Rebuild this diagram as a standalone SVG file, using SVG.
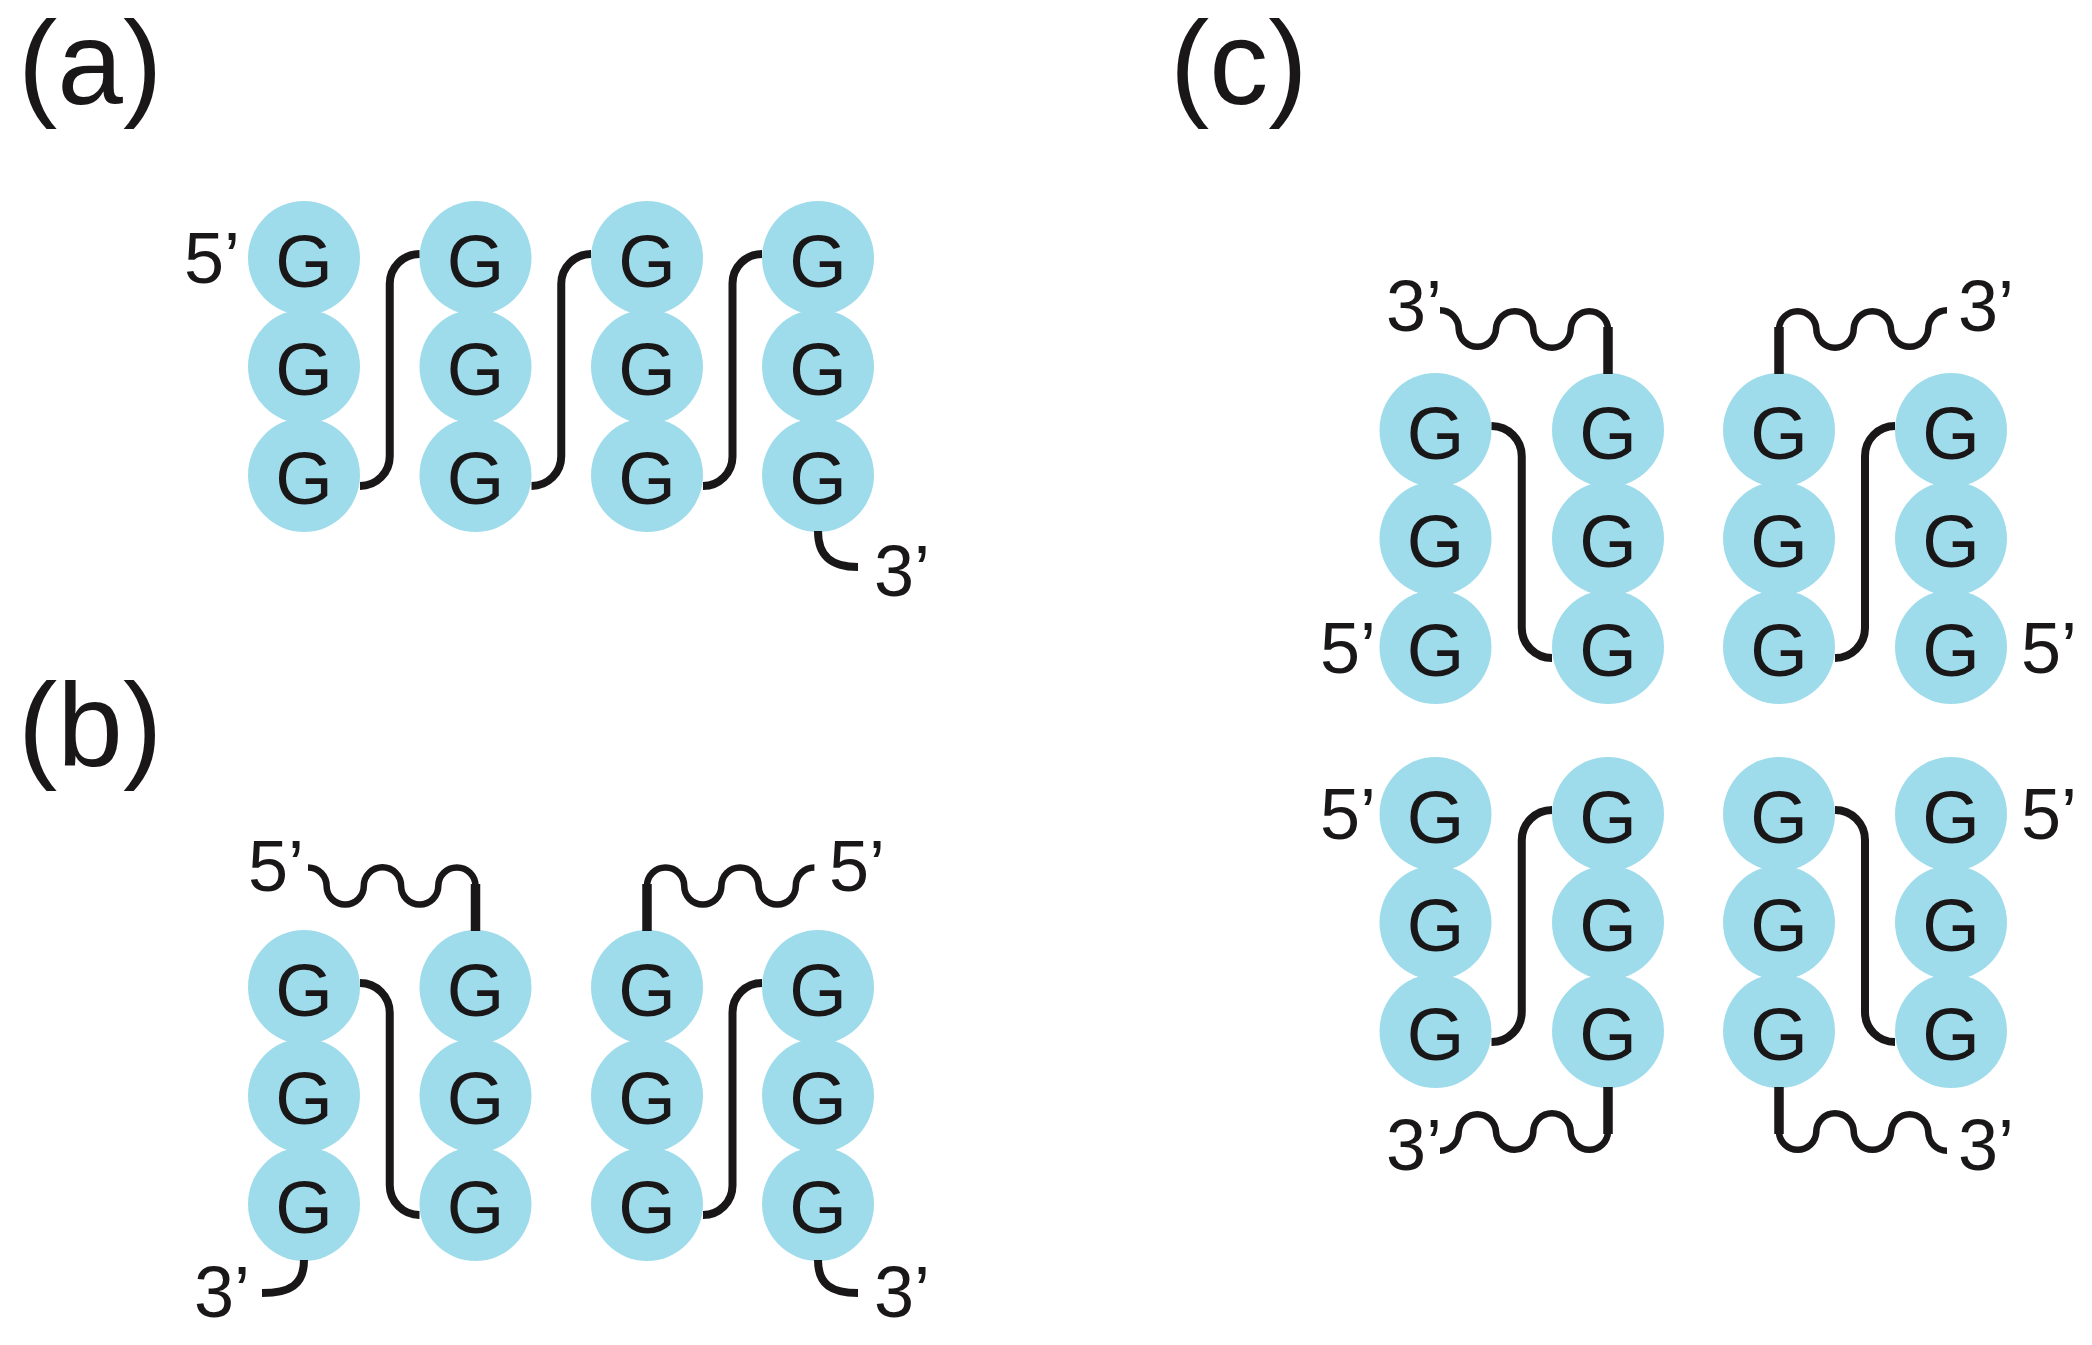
<svg xmlns="http://www.w3.org/2000/svg" width="2092" height="1345" viewBox="0 0 2092 1345">
<style>
.nd ellipse{fill:#9edcec}
.nd text{font-family:"Liberation Sans",Arial,sans-serif;font-size:74px;fill:#1a1718;text-anchor:middle}
.lbl{font-family:"Liberation Sans",Arial,sans-serif;font-size:72px;fill:#1a1718}
.panel{font-family:"Liberation Sans",Arial,sans-serif;font-size:118px;fill:#1a1718}
.loop,.wave,.tail,.stub{fill:none;stroke:#1a1718;stroke-linecap:butt}
.loop{stroke-width:8}
.tail{stroke-width:8}
.wave{stroke-width:6.5}
.stub{stroke-width:9.5}
</style>
<rect width="2092" height="1345" fill="#ffffff"/>
<text class="panel" x="18" y="104">(a)</text>
<text class="panel" x="18" y="766">(b)</text>
<text class="panel" x="1170" y="104">(c)</text>

<!-- panel (a) -->
<g id="a-c1-r1" class="nd"><ellipse cx="304" cy="258" rx="56" ry="57"/><text x="304" y="286.5">G</text></g>
<g id="a-c1-r2" class="nd"><ellipse cx="304" cy="366.5" rx="56" ry="57"/><text x="304" y="395">G</text></g>
<g id="a-c1-r3" class="nd"><ellipse cx="304" cy="475" rx="56" ry="57"/><text x="304" y="503.5">G</text></g>
<g id="a-c2-r1" class="nd"><ellipse cx="475.5" cy="258" rx="56" ry="57"/><text x="475.5" y="286.5">G</text></g>
<g id="a-c2-r2" class="nd"><ellipse cx="475.5" cy="366.5" rx="56" ry="57"/><text x="475.5" y="395">G</text></g>
<g id="a-c2-r3" class="nd"><ellipse cx="475.5" cy="475" rx="56" ry="57"/><text x="475.5" y="503.5">G</text></g>
<g id="a-c3-r1" class="nd"><ellipse cx="647" cy="258" rx="56" ry="57"/><text x="647" y="286.5">G</text></g>
<g id="a-c3-r2" class="nd"><ellipse cx="647" cy="366.5" rx="56" ry="57"/><text x="647" y="395">G</text></g>
<g id="a-c3-r3" class="nd"><ellipse cx="647" cy="475" rx="56" ry="57"/><text x="647" y="503.5">G</text></g>
<g id="a-c4-r1" class="nd"><ellipse cx="818" cy="258" rx="56" ry="57"/><text x="818" y="286.5">G</text></g>
<g id="a-c4-r2" class="nd"><ellipse cx="818" cy="366.5" rx="56" ry="57"/><text x="818" y="395">G</text></g>
<g id="a-c4-r3" class="nd"><ellipse cx="818" cy="475" rx="56" ry="57"/><text x="818" y="503.5">G</text></g>

<!-- panel (b) -->
<g id="b-c1-r1" class="nd"><ellipse cx="304" cy="987" rx="56" ry="57"/><text x="304" y="1015.5">G</text></g>
<g id="b-c1-r2" class="nd"><ellipse cx="304" cy="1095.5" rx="56" ry="57"/><text x="304" y="1124">G</text></g>
<g id="b-c1-r3" class="nd"><ellipse cx="304" cy="1204" rx="56" ry="57"/><text x="304" y="1232.5">G</text></g>
<g id="b-c2-r1" class="nd"><ellipse cx="475.5" cy="987" rx="56" ry="57"/><text x="475.5" y="1015.5">G</text></g>
<g id="b-c2-r2" class="nd"><ellipse cx="475.5" cy="1095.5" rx="56" ry="57"/><text x="475.5" y="1124">G</text></g>
<g id="b-c2-r3" class="nd"><ellipse cx="475.5" cy="1204" rx="56" ry="57"/><text x="475.5" y="1232.5">G</text></g>
<g id="b-c3-r1" class="nd"><ellipse cx="647" cy="987" rx="56" ry="57"/><text x="647" y="1015.5">G</text></g>
<g id="b-c3-r2" class="nd"><ellipse cx="647" cy="1095.5" rx="56" ry="57"/><text x="647" y="1124">G</text></g>
<g id="b-c3-r3" class="nd"><ellipse cx="647" cy="1204" rx="56" ry="57"/><text x="647" y="1232.5">G</text></g>
<g id="b-c4-r1" class="nd"><ellipse cx="818" cy="987" rx="56" ry="57"/><text x="818" y="1015.5">G</text></g>
<g id="b-c4-r2" class="nd"><ellipse cx="818" cy="1095.5" rx="56" ry="57"/><text x="818" y="1124">G</text></g>
<g id="b-c4-r3" class="nd"><ellipse cx="818" cy="1204" rx="56" ry="57"/><text x="818" y="1232.5">G</text></g>

<!-- panel (c) top -->
<g id="c-t-c1-r1" class="nd"><ellipse cx="1435.5" cy="430" rx="56" ry="57"/><text x="1435.5" y="458.5">G</text></g>
<g id="c-t-c1-r2" class="nd"><ellipse cx="1435.5" cy="538.5" rx="56" ry="57"/><text x="1435.5" y="567">G</text></g>
<g id="c-t-c1-r3" class="nd"><ellipse cx="1435.5" cy="647" rx="56" ry="57"/><text x="1435.5" y="675.5">G</text></g>
<g id="c-t-c2-r1" class="nd"><ellipse cx="1608" cy="430" rx="56" ry="57"/><text x="1608" y="458.5">G</text></g>
<g id="c-t-c2-r2" class="nd"><ellipse cx="1608" cy="538.5" rx="56" ry="57"/><text x="1608" y="567">G</text></g>
<g id="c-t-c2-r3" class="nd"><ellipse cx="1608" cy="647" rx="56" ry="57"/><text x="1608" y="675.5">G</text></g>
<g id="c-t-c3-r1" class="nd"><ellipse cx="1779" cy="430" rx="56" ry="57"/><text x="1779" y="458.5">G</text></g>
<g id="c-t-c3-r2" class="nd"><ellipse cx="1779" cy="538.5" rx="56" ry="57"/><text x="1779" y="567">G</text></g>
<g id="c-t-c3-r3" class="nd"><ellipse cx="1779" cy="647" rx="56" ry="57"/><text x="1779" y="675.5">G</text></g>
<g id="c-t-c4-r1" class="nd"><ellipse cx="1951" cy="430" rx="56" ry="57"/><text x="1951" y="458.5">G</text></g>
<g id="c-t-c4-r2" class="nd"><ellipse cx="1951" cy="538.5" rx="56" ry="57"/><text x="1951" y="567">G</text></g>
<g id="c-t-c4-r3" class="nd"><ellipse cx="1951" cy="647" rx="56" ry="57"/><text x="1951" y="675.5">G</text></g>

<!-- panel (c) bottom -->
<g id="c-b-c1-r1" class="nd"><ellipse cx="1435.5" cy="814" rx="56" ry="57"/><text x="1435.5" y="842.5">G</text></g>
<g id="c-b-c1-r2" class="nd"><ellipse cx="1435.5" cy="922.5" rx="56" ry="57"/><text x="1435.5" y="951">G</text></g>
<g id="c-b-c1-r3" class="nd"><ellipse cx="1435.5" cy="1031" rx="56" ry="57"/><text x="1435.5" y="1059.5">G</text></g>
<g id="c-b-c2-r1" class="nd"><ellipse cx="1608" cy="814" rx="56" ry="57"/><text x="1608" y="842.5">G</text></g>
<g id="c-b-c2-r2" class="nd"><ellipse cx="1608" cy="922.5" rx="56" ry="57"/><text x="1608" y="951">G</text></g>
<g id="c-b-c2-r3" class="nd"><ellipse cx="1608" cy="1031" rx="56" ry="57"/><text x="1608" y="1059.5">G</text></g>
<g id="c-b-c3-r1" class="nd"><ellipse cx="1779" cy="814" rx="56" ry="57"/><text x="1779" y="842.5">G</text></g>
<g id="c-b-c3-r2" class="nd"><ellipse cx="1779" cy="922.5" rx="56" ry="57"/><text x="1779" y="951">G</text></g>
<g id="c-b-c3-r3" class="nd"><ellipse cx="1779" cy="1031" rx="56" ry="57"/><text x="1779" y="1059.5">G</text></g>
<g id="c-b-c4-r1" class="nd"><ellipse cx="1951" cy="814" rx="56" ry="57"/><text x="1951" y="842.5">G</text></g>
<g id="c-b-c4-r2" class="nd"><ellipse cx="1951" cy="922.5" rx="56" ry="57"/><text x="1951" y="951">G</text></g>
<g id="c-b-c4-r3" class="nd"><ellipse cx="1951" cy="1031" rx="56" ry="57"/><text x="1951" y="1059.5">G</text></g>

<!-- end labels -->
<g id="labels">
<text class="lbl" x="184" y="283">5’</text>
<text class="lbl" x="874" y="596">3’</text>
<text class="lbl" x="248" y="891">5’</text>
<text class="lbl" x="829" y="891">5’</text>
<text class="lbl" x="194" y="1317">3’</text>
<text class="lbl" x="874" y="1317">3’</text>
<text class="lbl" x="1386" y="331">3’</text>
<text class="lbl" x="1958" y="331">3’</text>
<text class="lbl" x="1320" y="673">5’</text>
<text class="lbl" x="2021" y="673">5’</text>
<text class="lbl" x="1320" y="839">5’</text>
<text class="lbl" x="2021" y="839">5’</text>
<text class="lbl" x="1386" y="1170">3’</text>
<text class="lbl" x="1958" y="1170">3’</text>
</g>

<g id="connectors">
<!-- (a) -->
<path class="loop" d="M 360 486 A 29.75 29.75 0 0 0 389.75 456.25 V 283.75 A 29.75 29.75 0 0 1 419.5 254"/>
<path class="loop" d="M 531.5 486 A 29.75 29.75 0 0 0 561.25 456.25 V 283.75 A 29.75 29.75 0 0 1 591 254"/>
<path class="loop" d="M 703 486 A 29.5 29.5 0 0 0 732.5 456.5 V 283.5 A 29.5 29.5 0 0 1 762 254"/>
<path class="tail" d="M 818 531 C 818 557 832 567 858 567"/>
<!-- (b) -->
<path class="loop" d="M 360 983 A 29.75 29.75 0 0 1 389.75 1012.75 V 1185.25 A 29.75 29.75 0 0 0 419.5 1215"/>
<path class="loop" d="M 703 1215 A 29.5 29.5 0 0 0 732.5 1185.5 V 1012.5 A 29.5 29.5 0 0 1 762 983"/>
<path class="wave" d="M 308 867.4 A 18.6 18.6 0 0 1 326.6 886 A 18.6 18.6 0 0 0 363.8 886 A 18.6 18.6 0 0 1 401.1 886 A 18.6 18.6 0 0 0 438.3 886 A 18.6 18.6 0 0 1 475.5 886"/>
<line class="stub" x1="475.5" y1="884" x2="475.5" y2="931"/>
<path class="wave" d="M 647 886 A 18.6 18.6 0 0 1 684.2 886 A 18.6 18.6 0 0 0 721.4 886 A 18.6 18.6 0 0 1 758.6 886 A 18.6 18.6 0 0 0 795.8 886 A 18.6 18.6 0 0 1 814.4 867.4"/>
<line class="stub" x1="647" y1="884" x2="647" y2="931"/>
<path class="tail" d="M 304 1260 C 304 1285 290 1293 262 1293"/>
<path class="tail" d="M 818 1260 C 818 1285 832 1293 858 1293"/>
<!-- (c) top -->
<path class="loop" d="M 1491.5 426 A 30.25 30.25 0 0 1 1521.75 456.25 V 627.75 A 30.25 30.25 0 0 0 1552 658"/>
<path class="loop" d="M 1835 658 A 30 30 0 0 0 1865 628 V 456 A 30 30 0 0 1 1895 426"/>
<path class="wave" d="M 1440 310.3 A 18.67 18.67 0 0 1 1458.7 329 A 18.67 18.67 0 0 0 1496 329 A 18.67 18.67 0 0 1 1533.3 329 A 18.67 18.67 0 0 0 1570.7 329 A 18.67 18.67 0 0 1 1608 329"/>
<line class="stub" x1="1608" y1="327" x2="1608" y2="374"/>
<path class="wave" d="M 1779 329 A 18.67 18.67 0 0 1 1816.3 329 A 18.67 18.67 0 0 0 1853.7 329 A 18.67 18.67 0 0 1 1891 329 A 18.67 18.67 0 0 0 1928.3 329 A 18.67 18.67 0 0 1 1947 310.3"/>
<line class="stub" x1="1779" y1="327" x2="1779" y2="374"/>
<!-- (c) bottom -->
<path class="loop" d="M 1491.5 1042 A 30.25 30.25 0 0 0 1521.75 1011.75 V 840.25 A 30.25 30.25 0 0 1 1552 810"/>
<path class="loop" d="M 1835 810 A 30 30 0 0 1 1865 840 V 1012 A 30 30 0 0 0 1895 1042"/>
<path class="wave" d="M 1608 1132 A 18.67 18.67 0 0 1 1570.7 1132 A 18.67 18.67 0 0 0 1533.3 1132 A 18.67 18.67 0 0 1 1496 1132 A 18.67 18.67 0 0 0 1458.7 1132 A 18.67 18.67 0 0 1 1440 1150.7"/>
<line class="stub" x1="1608" y1="1087" x2="1608" y2="1134"/>
<path class="wave" d="M 1779 1132 A 18.67 18.67 0 0 0 1816.3 1132 A 18.67 18.67 0 0 1 1853.7 1132 A 18.67 18.67 0 0 0 1891 1132 A 18.67 18.67 0 0 1 1928.3 1132 A 18.67 18.67 0 0 0 1947 1150.7"/>
<line class="stub" x1="1779" y1="1087" x2="1779" y2="1134"/>
</g>
</svg>
